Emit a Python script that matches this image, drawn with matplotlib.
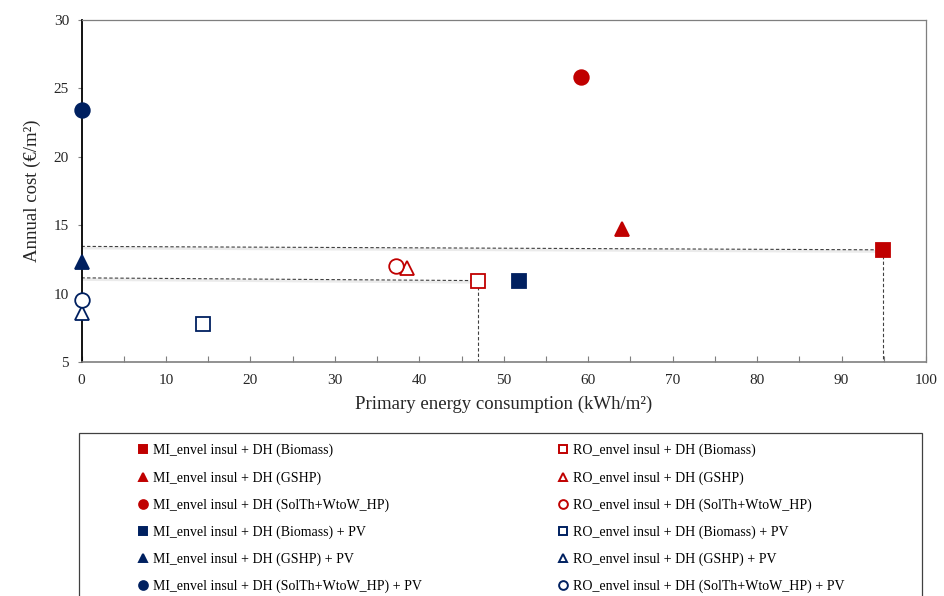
import matplotlib
matplotlib.use("Agg")
import matplotlib.pyplot as plt
from matplotlib.lines import Line2D
from matplotlib.patches import Rectangle

plt.rcParams['font.family'] = ['Liberation Serif', 'DejaVu Serif']

# ---- data ----
labels = [
    "MI_envel insul + DH (Biomass)",
    "MI_envel insul + DH (GSHP)",
    "MI_envel insul + DH (SolTh+WtoW_HP)",
    "MI_envel insul + DH (Biomass) + PV",
    "MI_envel insul + DH (GSHP) + PV",
    "MI_envel insul + DH (SolTh+WtoW_HP) + PV",
    "RO_envel insul + DH (Biomass)",
    "RO_envel insul + DH (GSHP)",
    "RO_envel insul + DH (SolTh+WtoW_HP)",
    "RO_envel insul + DH (Biomass) + PV",
    "RO_envel insul + DH (GSHP) + PV",
    "RO_envel insul + DH (SolTh+WtoW_HP) + PV",
]
primary_energy = [94.9, 64.0, 59.2, 51.8, 0.1, 0.1,
                  47.0, 38.5, 37.2, 14.4, 0.1, 0.1]
annual_cost = [13.2, 14.75, 25.8, 10.95, 12.3, 23.45,
               10.95, 11.9, 12.05, 7.8, 8.6, 9.55]
markers = ['s', '^', 'o', 's', '^', 'o', 's', '^', 'o', 's', '^', 'o']
filled = [True] * 6 + [False] * 6

# reference (dashed) lines: MI biomass and RO biomass
ref_x = [94.9, 47.0]
ref_y_left = [13.45, 11.15]
ref_y_right = [13.2, 10.95]

RED = '#C00000'
NAVY = '#002060'
colors = [RED, RED, RED, NAVY, NAVY, NAVY, RED, RED, RED, NAVY, NAVY, NAVY]
msizes = {'s': 9.6, '^': 10.0, 'o': 10.5}

fig = plt.figure(figsize=(9.44, 5.96), dpi=100)
ax = fig.add_axes([81.5 / 944, 1 - 362 / 596, (926 - 81.5) / 944, (362 - 20) / 596])

# dashed guide lines with light shadow
for xr, yl, yr in zip(ref_x, ref_y_left, ref_y_right):
    ax.plot([0, xr], [yl - 0.12, yr - 0.12], color='#ebebeb', lw=2.0, zorder=1,
            solid_capstyle='butt')
    ax.plot([0, xr], [yl, yr], color='#404040', lw=0.8, ls=(0, (3, 2)), zorder=2)
    ax.plot([xr, xr], [yr, 5], color='#404040', lw=0.8, ls=(0, (3, 2)), zorder=2)

handles = []
for xv, yv, m, f, c, lab in zip(primary_energy, annual_cost, markers, filled, colors, labels):
    ax.plot([xv], [yv], linestyle='none', marker=m, markersize=msizes[m],
            markerfacecolor=c if f else 'white', markeredgecolor=c,
            markeredgewidth=1.3, zorder=5, clip_on=False)
    handles.append(Line2D([], [], linestyle='none', marker=m, markersize=msizes[m] * 0.6,
                          markerfacecolor=c if f else 'white', markeredgecolor=c,
                          markeredgewidth=1.4, label=lab))

ax.set_xlim(0, 100)
ax.set_ylim(5, 30)
ax.set_xticks(range(0, 101, 10))
ax.set_xticks(range(0, 101, 5), minor=True)
ax.set_yticks(range(5, 31, 5))
ax.tick_params(axis='x', which='both', direction='in', length=4, width=0.8,
               color='#7f7f7f', labelsize=11, pad=9)
ax.tick_params(axis='y', which='both', direction='out', length=3, width=0.8,
               color='#7f7f7f', labelsize=11, pad=6)
for lbl in ax.get_xticklabels() + ax.get_yticklabels():
    lbl.set_color('#262626')

ax.spines['left'].set_color('black')
ax.spines['left'].set_linewidth(1.3)
ax.spines['bottom'].set_color('#7f7f7f')
ax.spines['bottom'].set_linewidth(1.2)
for s in ('top', 'right'):
    ax.spines[s].set_color('#7f7f7f')
    ax.spines[s].set_linewidth(0.9)

ax.set_xlabel('Primary energy consumption (kWh/m²)', fontsize=13.5, labelpad=6,
              color='#262626')
ax.set_ylabel('Annual cost (€/m²)', fontsize=13.5, labelpad=9, color='#262626')

# legend box
fig.add_artist(Rectangle((79 / 944, -0.05), (922 - 79) / 944, (1 - 433 / 596) + 0.05,
                         transform=fig.transFigure, facecolor='white',
                         edgecolor='#404040', lw=0.9, zorder=0))
leg_kw = dict(frameon=False, loc='upper left', fontsize=10, handlelength=0.7,
              handletextpad=0.35, labelspacing=0.98, borderaxespad=0, borderpad=0)
fig.legend(handles=handles[:6], bbox_to_anchor=(138 / 944, 1 - 444 / 596), **leg_kw)
fig.legend(handles=handles[6:], bbox_to_anchor=(558 / 944, 1 - 444 / 596), **leg_kw)

fig.savefig('out.png', dpi=100)
